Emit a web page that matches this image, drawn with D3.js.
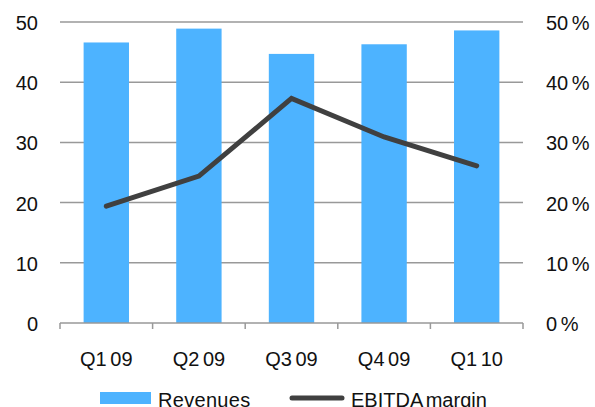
<!DOCTYPE html>
<html>
<head>
<meta charset="utf-8">
<script src="https://d3js.org/d3.v7.min.js"></script>
<style>
  body { margin: 0; background: #fff; }
  text { font-family: "Liberation Sans", Arial, sans-serif; font-size: 20px; fill: #111; }
</style>
</head>
<body>
<svg width="595" height="407"></svg>
<script>
// chart data
var quarters = ["Q1 09", "Q2 09", "Q3 09", "Q4 09", "Q1 10"];
var revenues = [46.6, 48.9, 44.7, 46.3, 48.6];
var ebitdaMargin = [19.4, 24.4, 37.3, 30.9, 26.1];
var leftTicks = [0, 10, 20, 30, 40, 50];
var rightTicks = [0, 10, 20, 30, 40, 50];

var svg = d3.select("svg");
var plotLeft = 60, plotRight = 523, plotTop = 22, plotBottom = 323;

var x = d3.scaleBand().domain(quarters).range([plotLeft, plotRight]).paddingInner(0.51).paddingOuter(0.255);
var xb = d3.scaleBand().domain(quarters).range([plotLeft, plotRight]);
var y = d3.scaleLinear().domain([0, 50]).range([plotBottom, plotTop]);
var y2 = d3.scaleLinear().domain([0, 50]).range([plotBottom, plotTop]);

// gridlines
svg.append("g").selectAll("line")
    .data(leftTicks.filter(function(d) { return d > 0; }))
    .enter().append("line")
    .attr("x1", plotLeft).attr("x2", plotRight)
    .attr("y1", function(d) { return y(d); })
    .attr("y2", function(d) { return y(d); })
    .attr("stroke", "#999").attr("stroke-width", 1.5);

// bars
svg.append("g").selectAll("rect")
    .data(revenues)
    .enter().append("rect")
    .attr("x", function(d, i) { return x(quarters[i]); })
    .attr("width", x.bandwidth())
    .attr("y", function(d) { return y(d); })
    .attr("height", function(d) { return plotBottom - y(d); })
    .attr("fill", "#4db3ff");

// x axis line and ticks
svg.append("line").attr("x1", plotLeft).attr("x2", plotRight)
    .attr("y1", plotBottom).attr("y2", plotBottom)
    .attr("stroke", "#999").attr("stroke-width", 1.5);
var tickXs = quarters.map(function(q) { return xb(q); }).concat([plotRight]);
svg.append("g").selectAll("line")
    .data(tickXs)
    .enter().append("line")
    .attr("x1", function(d) { return d; }).attr("x2", function(d) { return d; })
    .attr("y1", plotBottom).attr("y2", plotBottom + 6)
    .attr("stroke", "#999").attr("stroke-width", 1.5);

// x labels
svg.append("g").selectAll("text")
    .data(quarters)
    .enter().append("text")
    .attr("x", function(d) { return xb(d) + xb.bandwidth() / 2; })
    .attr("y", 366)
    .attr("text-anchor", "middle")
    .style("word-spacing", "-2px")
    .text(function(d) { return d; });

// left axis labels
svg.append("g").selectAll("text")
    .data(leftTicks)
    .enter().append("text")
    .attr("x", 38)
    .attr("y", function(d) { return y(d) + 8; })
    .attr("text-anchor", "end")
    .text(function(d) { return d; });

// right axis labels
svg.append("g").selectAll("text")
    .data(rightTicks)
    .enter().append("text")
    .attr("x", 546)
    .attr("y", function(d) { return y2(d) + 8; })
    .style("word-spacing", "-2px")
    .text(function(d) { return d + " %"; });

// EBITDA margin line
var line = d3.line()
    .x(function(d, i) { return xb(quarters[i]) + xb.bandwidth() / 2; })
    .y(function(d) { return y2(d); });
svg.append("path")
    .datum(ebitdaMargin)
    .attr("d", line)
    .attr("fill", "none")
    .attr("stroke", "#404040")
    .attr("stroke-width", 5)
    .attr("stroke-linecap", "round")
    .attr("stroke-linejoin", "miter");

// legend
svg.append("rect").attr("x", 100).attr("y", 392).attr("width", 51).attr("height", 12).attr("fill", "#4db3ff");
svg.append("text").attr("x", 158).attr("y", 407).style("letter-spacing", "0.3px").text("Revenues");
svg.append("line").attr("x1", 292).attr("x2", 342).attr("y1", 398).attr("y2", 398)
    .attr("stroke", "#404040").attr("stroke-width", 5).attr("stroke-linecap", "round");
svg.append("text").attr("x", 351).attr("y", 407).style("word-spacing", "-2px").text("EBITDA margin");
</script>
</body>
</html>
